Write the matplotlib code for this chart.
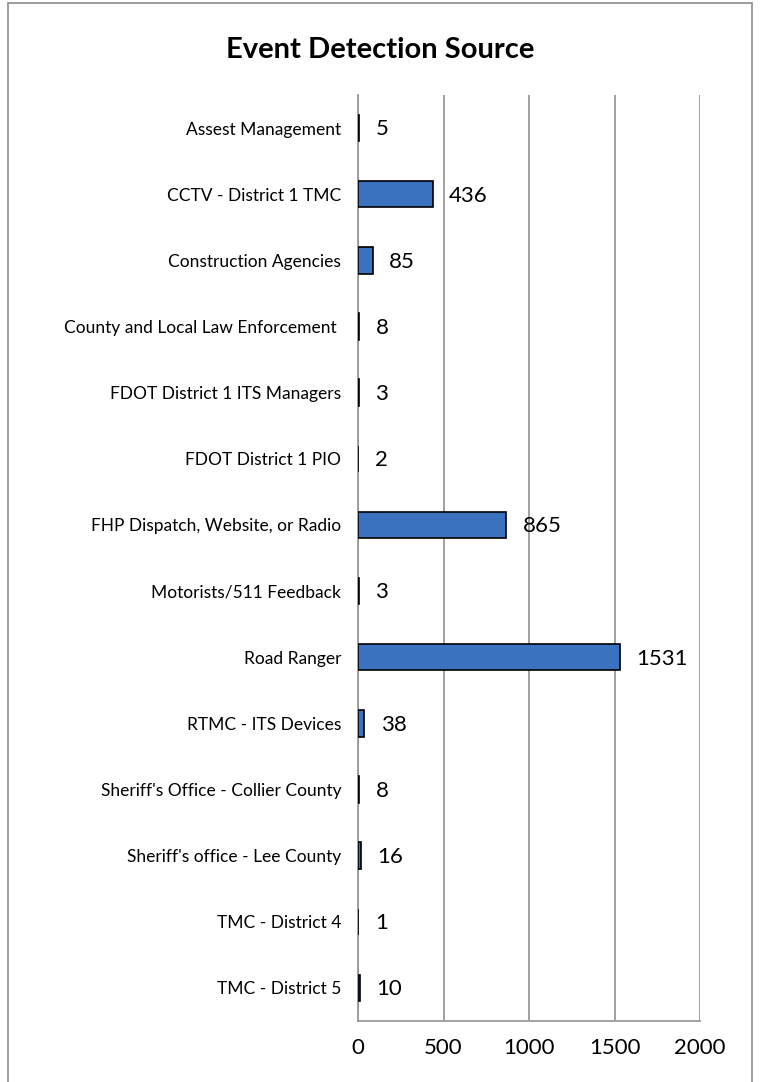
import matplotlib
matplotlib.use("Agg")
import matplotlib.pyplot as plt
from matplotlib.patches import Rectangle

plt.rcParams['font.family'] = ['Lato', 'DejaVu Sans']

# --- data ---
sources = [
    "Assest Management",
    "CCTV - District 1 TMC",
    "Construction Agencies",
    "County and Local Law Enforcement ",
    "FDOT District 1 ITS Managers",
    "FDOT District 1 PIO",
    "FHP Dispatch, Website, or Radio",
    "Motorists/511 Feedback",
    "Road Ranger",
    "RTMC - ITS Devices",
    "Sheriff's Office - Collier County",
    "Sheriff's office - Lee County",
    "TMC - District 4",
    "TMC - District 5",
]
counts = [5, 436, 85, 8, 3, 2, 865, 3, 1531, 38, 8, 16, 1, 10]
x_ticks = [0, 500, 1000, 1500, 2000]

fig = plt.figure(figsize=(7.61, 10.82), dpi=100)
fig.patches.append(Rectangle((8 / 761, -0.01), 744 / 761, 1.0072, transform=fig.transFigure,
                             fill=False, edgecolor='#8c8c8c', linewidth=1.2))

ax = fig.add_axes([358 / 761, 61 / 1082, 342 / 761, 926 / 1082])
ypos = list(range(len(sources)))
ax.barh(ypos, counts, height=0.4, color='#3a72c0', edgecolor='black', linewidth=1.2, zorder=3)

for y, v in zip(ypos, counts):
    ax.annotate(str(v), (v, y), xytext=(12, -1), textcoords='offset points',
                va='center', ha='left', fontsize=16, color='black')

ax.set_xlim(0, 2000)
ax.set_ylim(len(sources) - 0.5, -0.5)
ax.set_yticks(ypos)
ax.set_yticklabels(sources, fontsize=12.5)
ax.set_xticks(x_ticks)
ax.set_xticklabels([str(t) for t in x_ticks], fontsize=16)
ax.tick_params(axis='both', length=0)
ax.tick_params(axis='y', pad=12)
ax.tick_params(axis='x', pad=12)
ax.grid(axis='x', color='#9a9a9a', linewidth=1.3, zorder=0)
for s in ['top', 'right']:
    ax.spines[s].set_visible(False)
for s in ['left', 'bottom']:
    ax.spines[s].set_color('#9a9a9a')
    ax.spines[s].set_linewidth(1.3)

fig.text(0.5, 1 - 50 / 1082, "Event Detection Source", ha='center', va='center',
         fontsize=21, fontweight='bold')

fig.savefig("out.png", dpi=100)
